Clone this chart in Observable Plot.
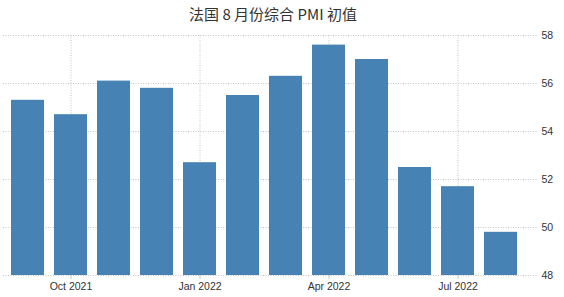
<!DOCTYPE html>
<html>
<head>
<meta charset="utf-8">
<script src="https://cdn.jsdelivr.net/npm/d3@7"></script>
<script src="https://cdn.jsdelivr.net/npm/@observablehq/plot@0.6"></script>
<style>
  html, body { margin: 0; padding: 0; background: #fff; }
  #title { width: 564px; height: 28px; line-height: 28px; text-align: center; font-family: "Noto Sans CJK SC", sans-serif; font-size: 15px; color: #333; box-sizing: border-box; padding-right: 18px; }
</style>
</head>
<body>
<div id="title">法国 8 月份综合 PMI 初值</div>
<div id="chart"></div>
<script>
const months = ["2021-09","2021-10","2021-11","2021-12","2022-01","2022-02","2022-03","2022-04","2022-05","2022-06","2022-07","2022-08"];
const pmi = [55.3, 54.7, 56.1, 55.8, 52.7, 55.5, 56.3, 57.6, 57.0, 52.5, 51.7, 49.8];
const baseline = 48;
const tickMonths = ["2021-10","2022-01","2022-04","2022-07"];
const tickLabels = ["Oct 2021","Jan 2022","Apr 2022","Jul 2022"];
const yTicks = [48, 50, 52, 54, 56, 58];

const data = months.map((m, i) => ({month: m, value: pmi[i], base: baseline}));
const labelOf = new Map(tickMonths.map((m, i) => [m, tickLabels[i]]));

const chart = Plot.plot({
  width: 564,
  height: 269,
  marginTop: 7,
  marginBottom: 22,
  marginLeft: 3,
  marginRight: 26,
  style: {fontFamily: "'Liberation Sans', sans-serif", fontSize: "10.5px", color: "#333", background: "#fff"},
  x: {type: "band", domain: months, paddingInner: 0.24, paddingOuter: 0.12, insetRight: 14, label: null},
  y: {domain: [48, 58], label: null},
  marks: [
    Plot.gridY(yTicks, {stroke: "#c4c4c4", strokeOpacity: 1, strokeDasharray: "1,1.5"}),
    Plot.gridX(tickMonths, {stroke: "#c4c4c4", strokeOpacity: 1, strokeDasharray: "1,1.5"}),
    Plot.rectY(data, {x: "month", y1: "base", y2: "value", fill: "#4682b4"}),
    Plot.axisY(yTicks, {anchor: "right", tickSize: 0, tickPadding: 3, fill: "#333"}),
    Plot.axisX(tickMonths, {tickSize: 4, stroke: "#c4c4c4", tickPadding: 3, tickFormat: d => labelOf.get(d), fill: "#333"})
  ]
});
document.getElementById("chart").appendChild(chart);
</script>
</body>
</html>
